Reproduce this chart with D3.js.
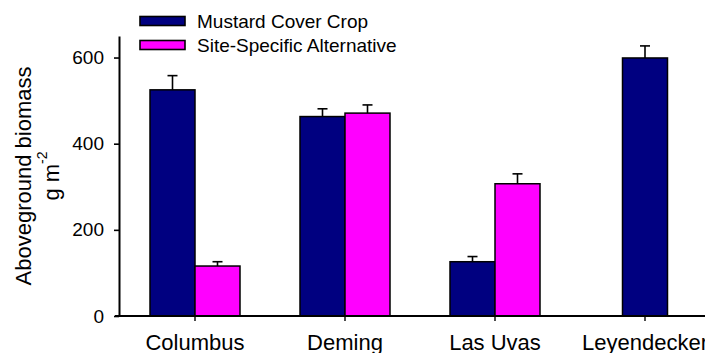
<!DOCTYPE html>
<html>
<head>
<meta charset="utf-8">
<script src="https://cdn.jsdelivr.net/npm/d3@7"></script>
<style>
  html, body { margin: 0; padding: 0; background: #fff; }
  svg { display: block; font-family: "Liberation Sans", Arial, sans-serif; }
</style>
</head>
<body>
<svg id="chart" width="705" height="353"></svg>
<script>
// Aboveground biomass (g m^-2) by site
const sites = ["Columbus", "Deming", "Las Uvas", "Leyendecker"];
const seriesNames = ["Mustard Cover Crop", "Site-Specific Alternative"];
const seriesColors = ["#000080", "#FF00FF"];
const mustardMean = [525, 463, 126, 599];
const mustardErr = [33, 18, 12, 28];
const altMean = [116, 471, 307, null];
const altErr = [10, 19, 23, null];
const yTicks = [0, 200, 400, 600];

const svg = d3.select("#chart");

const y = d3.scaleLinear().domain([0, 650]).range([316, 36]);
const x = d3.scaleBand().domain(sites).range([120, 720])
  .paddingInner(0.4).paddingOuter(0.2);
const sub = d3.scaleBand().domain([0, 1]).range([0, x.bandwidth()]);

// Build bar records; a site with a single value gets one centred bar
const bars = [];
sites.forEach((s, i) => {
  const vals = [
    { k: 0, v: mustardMean[i], e: mustardErr[i] },
    { k: 1, v: altMean[i], e: altErr[i] }
  ].filter(d => d.v != null);
  vals.forEach((d) => {
    let x0;
    if (vals.length === 1) {
      x0 = x(s) + x.bandwidth() / 2 - sub.bandwidth() / 2;
    } else {
      x0 = x(s) + sub(d.k);
    }
    bars.push({ site: s, k: d.k, v: d.v, e: d.e, x0 });
  });
});

// Error bars (upper half only)
const eb = svg.append("g").attr("stroke", "#000").attr("stroke-width", 1.6);
bars.forEach(d => {
  const cx = d.x0 + sub.bandwidth() / 2;
  eb.append("line").attr("x1", cx).attr("x2", cx)
    .attr("y1", y(d.v)).attr("y2", y(d.v + d.e));
  eb.append("line").attr("x1", cx - 5).attr("x2", cx + 5)
    .attr("y1", y(d.v + d.e)).attr("y2", y(d.v + d.e));
});

// Bars
svg.append("g").selectAll("rect").data(bars).join("rect")
  .attr("x", d => d.x0)
  .attr("y", d => y(d.v))
  .attr("width", sub.bandwidth())
  .attr("height", d => y(0) - y(d.v))
  .attr("fill", d => seriesColors[d.k])
  .attr("stroke", "#000")
  .attr("stroke-width", 1.5);

// Y axis
const yAxis = svg.append("g").attr("transform", "translate(119,0)")
  .call(d3.axisLeft(y).tickValues(yTicks).tickFormat(d3.format("d"))
    .tickSize(5).tickSizeOuter(0).tickPadding(10));
yAxis.select(".domain").attr("stroke-width", 2);
yAxis.selectAll(".tick line").attr("stroke-width", 1.6);
yAxis.selectAll("text").attr("font-size", 19).attr("fill", "#000")
  .attr("font-family", "Liberation Sans, Arial, sans-serif");

// X axis
const xAxis = svg.append("g").attr("transform", "translate(0,316)")
  .call(d3.axisBottom(x).tickSize(5).tickSizeOuter(0).tickPadding(13));
xAxis.select(".domain").attr("stroke-width", 2.2)
  .attr("d", "M115,0H720");
xAxis.selectAll(".tick line").attr("stroke-width", 1.4);
xAxis.selectAll("text").attr("font-size", 22).attr("fill", "#000")
  .attr("font-family", "Liberation Sans, Arial, sans-serif");

// Y axis title
const yt = svg.append("g").attr("font-size", 22).attr("fill", "#000");
yt.append("text").attr("transform", "translate(31,176) rotate(-90)")
  .attr("text-anchor", "middle").text("Aboveground biomass");
const t2 = yt.append("text").attr("transform", "translate(59,176) rotate(-90)")
  .attr("text-anchor", "middle");
t2.append("tspan").text("g m");
t2.append("tspan").attr("font-size", 14).attr("dy", -12).text("-2");

// Legend
const lg = svg.append("g").attr("transform", "translate(140,16.5)");
seriesNames.forEach((name, i) => {
  const row = lg.append("g").attr("transform", `translate(0,${i * 24})`);
  row.append("rect").attr("width", 45).attr("height", 9)
    .attr("fill", seriesColors[i]).attr("stroke", "#000").attr("stroke-width", 1.6);
  row.append("text").attr("x", 57).attr("y", 11.5)
    .attr("font-size", 19).attr("fill", "#000").text(name);
});
</script>
</body>
</html>
